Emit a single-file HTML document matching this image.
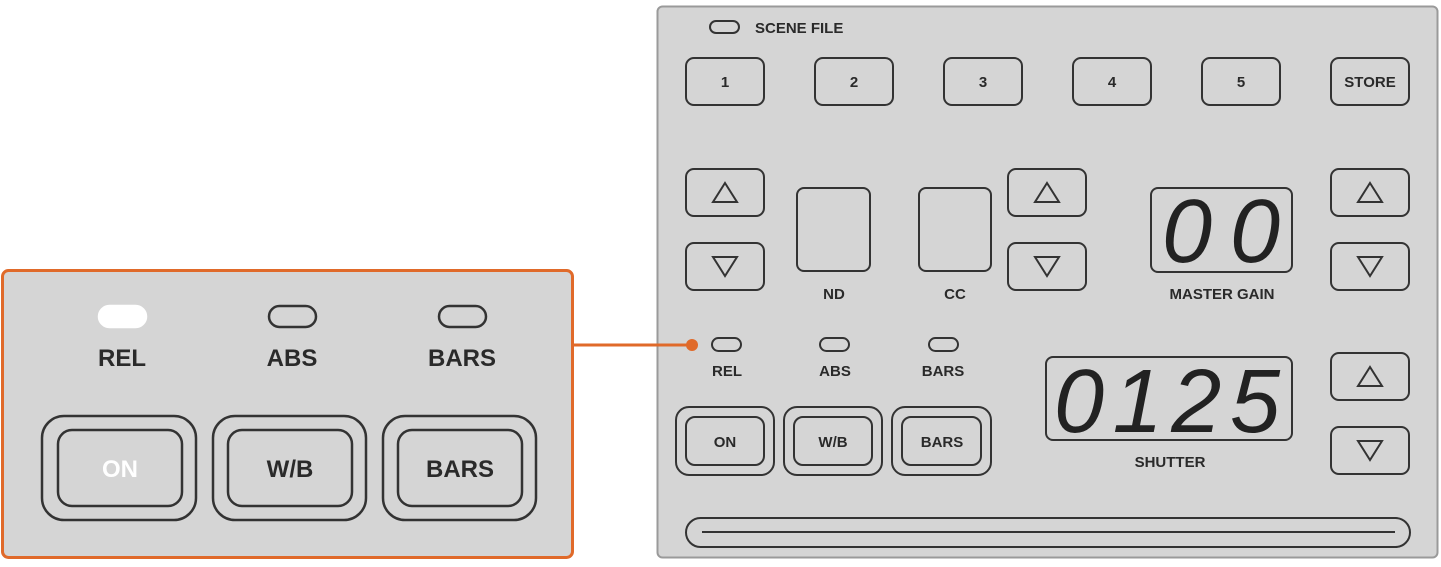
<!DOCTYPE html>
<html><head><meta charset="utf-8"><style>
html,body{margin:0;padding:0;background:#fff;width:1441px;height:567px;overflow:hidden}
svg{display:block}
text{font-family:"Liberation Sans",sans-serif;font-weight:bold;fill:#2a2a2a}
</style></head><body>
<svg width="1441" height="567" viewBox="0 0 1441 567" xmlns="http://www.w3.org/2000/svg">
<g fill="none" stroke="#333" stroke-width="2">
<!-- right panel -->
<rect x="657.5" y="6.5" width="780" height="551" rx="5" fill="#d5d5d5" stroke="#9a9a9a" stroke-width="2"/>
<rect x="710" y="21" width="29" height="12" rx="6"/>
<rect x="686" y="58" width="78" height="47" rx="8"/>
<rect x="815" y="58" width="78" height="47" rx="8"/>
<rect x="944" y="58" width="78" height="47" rx="8"/>
<rect x="1073" y="58" width="78" height="47" rx="8"/>
<rect x="1202" y="58" width="78" height="47" rx="8"/>
<rect x="1331" y="58" width="78" height="47" rx="8"/>
<!-- up/down -->
<rect x="686" y="169" width="78" height="47" rx="8"/>
<rect x="686" y="243" width="78" height="47" rx="8"/>
<rect x="1008" y="169" width="78" height="47" rx="8"/>
<rect x="1008" y="243" width="78" height="47" rx="8"/>
<rect x="1331" y="169" width="78" height="47" rx="8"/>
<rect x="1331" y="243" width="78" height="47" rx="8"/>
<rect x="1331" y="353" width="78" height="47" rx="8"/>
<rect x="1331" y="427" width="78" height="47" rx="8"/>
<path d="M725 183 L737 202 L713 202 Z M713 257 L737 257 L725 276 Z"/>
<path d="M1047 183 L1059 202 L1035 202 Z M1035 257 L1059 257 L1047 276 Z"/>
<path d="M1370 183 L1382 202 L1358 202 Z M1358 257 L1382 257 L1370 276 Z"/>
<path d="M1370 367 L1382 386 L1358 386 Z M1358 441 L1382 441 L1370 460 Z"/>
<rect x="797" y="188" width="73" height="83" rx="7"/>
<rect x="919" y="188" width="72" height="83" rx="7"/>
<rect x="1151" y="188" width="141" height="84" rx="7"/>
<rect x="1046" y="357" width="246" height="83" rx="7"/>
<!-- small LEDs -->
<rect x="712" y="338" width="29" height="13" rx="6.5"/>
<rect x="820" y="338" width="29" height="13" rx="6.5"/>
<rect x="929" y="338" width="29" height="13" rx="6.5"/>
<rect x="676" y="407" width="98" height="68" rx="13"/>
<rect x="686" y="417" width="78" height="48" rx="9"/>
<rect x="784" y="407" width="98" height="68" rx="13"/>
<rect x="794" y="417" width="78" height="48" rx="9"/>
<rect x="892" y="407" width="99" height="68" rx="13"/>
<rect x="902" y="417" width="79" height="48" rx="9"/>
<rect x="686" y="518" width="724" height="29" rx="14.5"/>
<line x1="702" y1="532" x2="1395" y2="532"/>
</g>
<!-- connector -->
<line x1="573" y1="345" x2="692" y2="345" stroke="#e06a2a" stroke-width="3"/>
<circle cx="692" cy="345" r="6" fill="#e06a2a"/>
<!-- left box -->
<rect x="2.5" y="270.5" width="570" height="287" rx="6" fill="#d5d5d5" stroke="#e06a2a" stroke-width="3"/>
<g fill="none" stroke="#333" stroke-width="2.5">
<rect x="99" y="306" width="47" height="21" rx="10.5" fill="#fff" stroke="#fff"/>
<rect x="269" y="306" width="47" height="21" rx="10.5"/>
<rect x="439" y="306" width="47" height="21" rx="10.5"/>
<rect x="42" y="416" width="154" height="104" rx="22"/>
<rect x="58" y="430" width="124" height="76" rx="14"/>
<rect x="213" y="416" width="153" height="104" rx="22"/>
<rect x="228" y="430" width="124" height="76" rx="14"/>
<rect x="383" y="416" width="153" height="104" rx="22"/>
<rect x="398" y="430" width="124" height="76" rx="14"/>
</g>
<!-- texts right -->
<text x="755" y="33" font-size="15">SCENE FILE</text>
<g font-size="15" text-anchor="middle">
<text x="725" y="87" text-anchor="middle">1</text>
<text x="854" y="87" text-anchor="middle">2</text>
<text x="983" y="87" text-anchor="middle">3</text>
<text x="1112" y="87" text-anchor="middle">4</text>
<text x="1241" y="87" text-anchor="middle">5</text>
<text x="1370" y="87" text-anchor="middle">STORE</text>
<text x="834" y="299" text-anchor="middle">ND</text>
<text x="955" y="299" text-anchor="middle">CC</text>
<text x="1222" y="299" text-anchor="middle">MASTER GAIN</text>
<text x="1170" y="467" text-anchor="middle">SHUTTER</text>
<text x="727" y="376" text-anchor="middle">REL</text>
<text x="835" y="376" text-anchor="middle">ABS</text>
<text x="943" y="376" text-anchor="middle">BARS</text>
<text x="725" y="447" text-anchor="middle">ON</text>
<text x="833" y="447" text-anchor="middle">W/B</text>
<text x="942" y="447" text-anchor="middle">BARS</text>
</g>
<!-- displays -->
<text x="1162" y="262" font-size="90" font-weight="normal" font-style="italic" textLength="118" lengthAdjust="spacing" style="font-weight:normal;fill:#222">00</text>
<text x="1054" y="432" font-size="90" font-weight="normal" font-style="italic" textLength="226" lengthAdjust="spacing" style="font-weight:normal;fill:#222">0125</text>
<!-- texts left -->
<g font-size="24">
<text x="122" y="366" text-anchor="middle">REL</text>
<text x="292" y="366" text-anchor="middle">ABS</text>
<text x="462" y="366" text-anchor="middle">BARS</text>
<text x="120" y="477" text-anchor="middle" style="fill:#fff">ON</text>
<text x="290" y="477" text-anchor="middle">W/B</text>
<text x="460" y="477" text-anchor="middle">BARS</text>
</g>
</svg>
</body></html>
